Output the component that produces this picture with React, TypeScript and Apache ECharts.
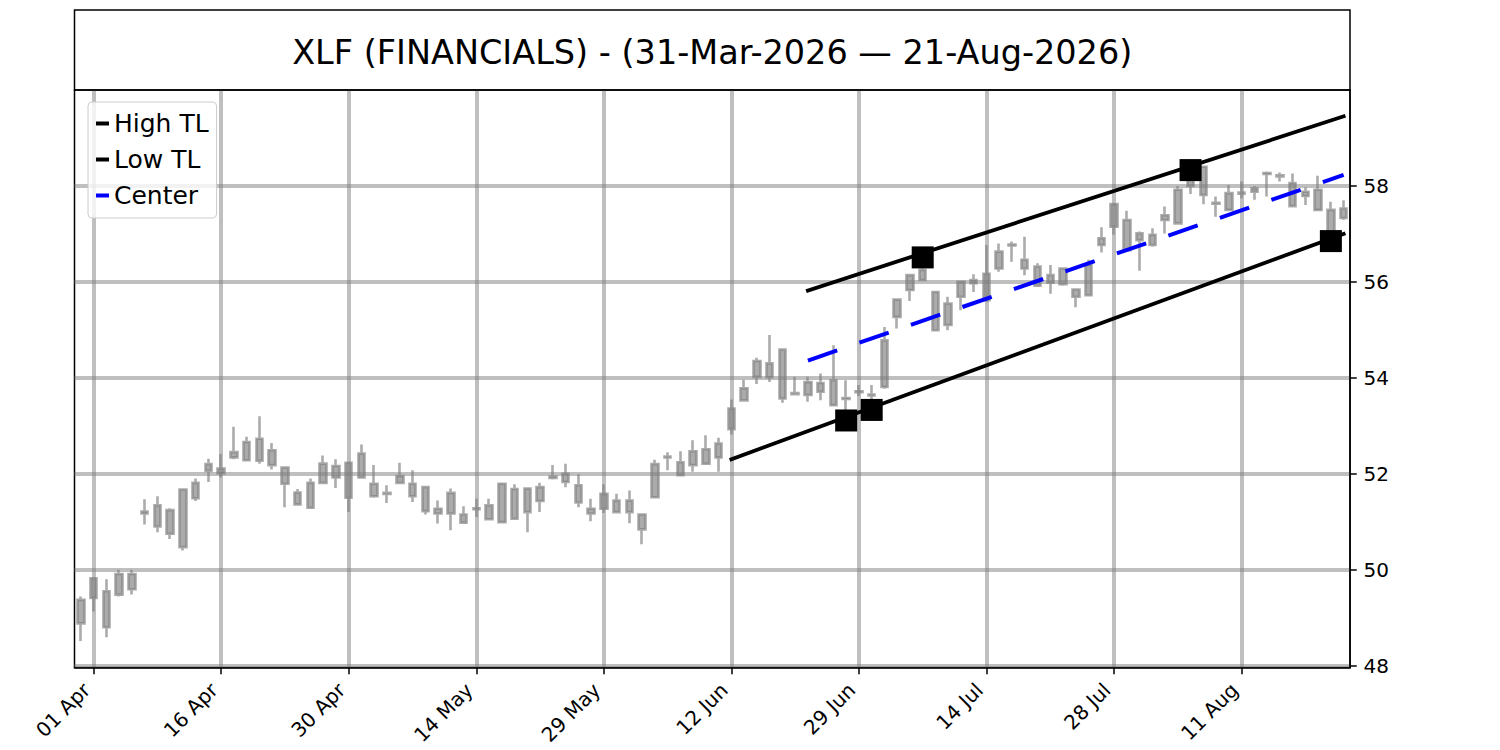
import React, { useEffect, useRef } from "react";
import * as echarts from "echarts";

const TITLE = "XLF (FINANCIALS) - (31-Mar-2026 \u2014 21-Aug-2026)";

const dates = [
  "2026-03-31", "2026-04-01", "2026-04-02", "2026-04-06", "2026-04-07", "2026-04-08", "2026-04-09", "2026-04-10",
  "2026-04-13", "2026-04-14", "2026-04-15", "2026-04-16", "2026-04-17", "2026-04-20", "2026-04-21", "2026-04-22",
  "2026-04-23", "2026-04-24", "2026-04-27", "2026-04-28", "2026-04-29", "2026-04-30", "2026-05-01", "2026-05-04",
  "2026-05-05", "2026-05-06", "2026-05-07", "2026-05-08", "2026-05-11", "2026-05-12", "2026-05-13", "2026-05-14",
  "2026-05-15", "2026-05-18", "2026-05-19", "2026-05-20", "2026-05-21", "2026-05-22", "2026-05-26", "2026-05-27",
  "2026-05-28", "2026-05-29", "2026-06-01", "2026-06-02", "2026-06-03", "2026-06-04", "2026-06-05", "2026-06-08",
  "2026-06-09", "2026-06-10", "2026-06-11", "2026-06-12", "2026-06-15", "2026-06-16", "2026-06-17", "2026-06-18",
  "2026-06-22", "2026-06-23", "2026-06-24", "2026-06-25", "2026-06-26", "2026-06-29", "2026-06-30", "2026-07-01",
  "2026-07-02", "2026-07-06", "2026-07-07", "2026-07-08", "2026-07-09", "2026-07-10", "2026-07-13", "2026-07-14",
  "2026-07-15", "2026-07-16", "2026-07-17", "2026-07-20", "2026-07-21", "2026-07-22", "2026-07-23", "2026-07-24",
  "2026-07-27", "2026-07-28", "2026-07-29", "2026-07-30", "2026-07-31", "2026-08-03", "2026-08-04", "2026-08-05",
  "2026-08-06", "2026-08-07", "2026-08-10", "2026-08-11", "2026-08-12", "2026-08-13", "2026-08-14", "2026-08-17",
  "2026-08-18", "2026-08-19", "2026-08-20", "2026-08-21",
];

const open = [
  48.88, 49.41, 49.55, 49.48, 49.59, 51.17, 51.34, 51.24, 50.47, 51.49,
  52.06, 52.11, 52.34, 52.28, 52.27, 52.49, 52.13, 51.61, 51.29, 51.81,
  51.92, 52.23, 51.92, 51.79, 51.60, 51.81, 51.79, 51.72, 51.27, 51.17,
  51.15, 51.26, 51.34, 50.99, 51.68, 51.20, 51.43, 51.91, 52.00, 51.76,
  51.27, 51.27, 51.44, 51.44, 51.15, 51.51, 52.34, 52.24, 52.18, 52.21,
  52.34, 52.93, 53.53, 54.02, 54.30, 54.59, 53.68, 53.64, 53.71, 53.95,
  53.58, 53.70, 53.65, 53.81, 55.27, 55.83, 56.04, 55.79, 55.55, 55.69,
  55.97, 56.17, 56.28, 56.76, 56.46, 56.32, 56.14, 55.95, 55.84, 55.72,
  56.77, 57.15, 57.29, 57.01, 56.98, 57.29, 57.22, 58.00, 57.81, 57.65,
  57.50, 57.84, 57.88, 58.25, 58.22, 58.06, 57.79, 57.92, 57.50, 57.33,
];

const close = [
  49.37, 49.82, 48.80, 49.91, 49.91, 51.21, 50.90, 50.75, 51.67, 51.81,
  52.20, 52.01, 52.45, 52.66, 52.73, 52.18, 51.79, 51.36, 51.81, 52.21,
  52.16, 51.50, 52.42, 51.53, 51.58, 51.95, 51.53, 51.22, 51.17, 51.60,
  50.98, 51.28, 51.05, 51.79, 51.06, 51.69, 51.72, 51.94, 51.83, 51.40,
  51.17, 51.58, 51.20, 51.20, 50.84, 52.20, 52.36, 51.97, 52.47, 52.51,
  52.63, 53.36, 53.78, 54.35, 54.01, 53.57, 53.66, 53.91, 53.89, 53.43,
  53.56, 53.72, 53.63, 54.78, 55.63, 56.14, 56.25, 54.99, 55.10, 56.00,
  56.04, 55.62, 56.63, 56.78, 56.28, 55.92, 55.98, 56.28, 55.69, 56.35,
  56.91, 57.62, 56.66, 56.87, 56.77, 57.39, 57.92, 58.15, 58.40, 57.63,
  57.85, 57.86, 57.95, 58.27, 58.20, 57.58, 57.88, 57.50, 57.01, 57.53,
];

const low = [
  48.51, 49.13, 48.59, 49.44, 49.48, 50.94, 50.78, 50.64, 50.40, 51.43,
  51.83, 51.92, 52.30, 52.26, 52.21, 52.09, 51.30, 51.34, 51.29, 51.81,
  51.70, 51.20, 51.92, 51.50, 51.39, 51.79, 51.41, 51.15, 50.96, 50.82,
  50.96, 51.10, 51.03, 50.99, 51.06, 50.78, 51.20, 51.88, 51.72, 51.30,
  51.01, 51.18, 51.18, 50.97, 50.53, 51.51, 52.07, 51.96, 52.04, 52.21,
  52.04, 52.82, 53.50, 53.87, 53.91, 53.48, 53.63, 53.50, 53.53, 53.43,
  53.11, 53.62, 53.34, 53.77, 55.03, 55.60, 56.04, 54.99, 54.99, 55.41,
  55.79, 55.58, 56.21, 56.42, 56.14, 55.92, 55.75, 55.92, 55.47, 55.72,
  56.61, 56.98, 56.66, 56.23, 56.73, 57.01, 57.22, 57.83, 57.62, 57.36,
  57.47, 57.74, 57.71, 57.78, 58.09, 57.58, 57.60, 57.47, 56.85, 57.29,
];

const high = [
  49.44, 49.82, 49.80, 50.00, 50.00, 51.47, 51.53, 51.28, 51.67, 51.90,
  52.31, 52.41, 52.98, 52.77, 53.20, 52.64, 52.15, 51.68, 51.90, 52.38,
  52.30, 52.23, 52.61, 52.18, 51.76, 52.23, 52.07, 51.72, 51.44, 51.69,
  51.32, 51.48, 51.48, 51.80, 51.78, 51.69, 51.81, 52.18, 52.21, 51.99,
  51.48, 51.78, 51.58, 51.65, 51.15, 52.29, 52.45, 52.47, 52.70, 52.80,
  52.75, 53.55, 53.96, 54.42, 54.89, 54.61, 54.02, 54.02, 54.09, 54.68,
  53.95, 53.85, 53.85, 55.06, 55.63, 56.17, 56.52, 55.79, 55.69, 56.00,
  56.16, 56.77, 56.80, 56.84, 56.94, 56.39, 56.35, 56.30, 55.84, 56.46,
  57.14, 57.62, 57.48, 57.05, 57.12, 57.57, 58.00, 58.33, 58.40, 57.78,
  58.02, 58.09, 58.00, 58.30, 58.28, 58.26, 57.97, 58.21, 57.67, 57.70,
];

const yTicks = [48, 50, 52, 54, 56, 58];
const monthNames = ["Jan", "Feb", "Mar", "Apr", "May", "Jun", "Jul", "Aug", "Sep", "Oct", "Nov", "Dec"];

// trendlines: [category index, price]
const highTL = [[57, 55.82], [99, 59.45]];
const lowTL = [[51, 52.3], [99, 57.0]];
const centerTL = [[57, 54.36], [99, 58.23]];
const pivots = [[60, 53.11], [62, 53.33], [66, 56.51], [87, 58.33], [98, 56.85]];

const FONT = "DejaVu Sans";
const GRID_COLOR = "rgba(128,128,128,0.5)";
const TICK_FONT = 20;

function fmtDate(s: string): string {
  const parts = s.split("-");
  return parts[2] + " " + monthNames[parseInt(parts[1], 10) - 1];
}

const showIdx = (i: number) => i % 10 === 1;

export default function App() {
  const ref = useRef<HTMLDivElement>(null);

  useEffect(() => {
    document.body.style.margin = "0";
    const chart = echarts.init(ref.current as HTMLDivElement, undefined, { renderer: "svg" });
    const candles = dates.map((_, i) => [open[i], close[i], low[i], high[i]]);

    const option: any = {
      animation: false,
      backgroundColor: "#ffffff",
      title: {
        text: TITLE,
        left: 712.25,
        top: 35,
        textAlign: "center",
        padding: 0,
        textStyle: { fontFamily: FONT, fontSize: 33.5, fontWeight: "normal", color: "#000" },
      },
      graphic: [
        {
          type: "rect",
          shape: { x: 74.5, y: 10, width: 1275.5, height: 80 },
          style: { fill: "none", stroke: "#000", lineWidth: 1.5 },
          z: 100,
        },
      ],
      legend: {
        orient: "vertical",
        left: 88,
        top: 102,
        padding: [9, 8, 10, 8],
        itemGap: 11,
        itemWidth: 13,
        itemHeight: 4,
        backgroundColor: "rgba(255,255,255,0.8)",
        borderColor: "#cccccc",
        borderWidth: 1,
        borderRadius: 4,
        textStyle: { fontFamily: FONT, fontSize: 25, color: "#000" },
        itemStyle: { borderWidth: 0 },
        data: [
          { name: "High TL", icon: "rect" },
          { name: "Low TL", icon: "rect" },
          { name: "Center", icon: "rect" },
        ],
        z: 50,
      },
      grid: {
        left: 74.5,
        right: 150,
        top: 90,
        bottom: 82.5,
        outerBoundsMode: "none",
        containLabel: false,
        show: true,
        borderColor: "#000",
        borderWidth: 1.5,
        backgroundColor: "transparent",
      },
      xAxis: {
        type: "category",
        data: dates,
        boundaryGap: true,
        axisLine: { show: true, lineStyle: { color: "#000", width: 1.5 } },
        axisTick: {
          show: true,
          alignWithLabel: true,
          interval: (i: number) => showIdx(i),
          length: 6.75,
          lineStyle: { color: "#000", width: 1.5 },
        },
        axisLabel: {
          interval: (i: number) => showIdx(i),
          rotate: 45,
          margin: 12,
          padding: [0, 10, 0, 0],
          fontFamily: FONT,
          fontSize: TICK_FONT,
          color: "#000",
          formatter: (v: string) => fmtDate(v),
        },
        splitLine: {
          show: true,
          alignWithLabel: true,
          interval: (i: number) => showIdx(i),
          lineStyle: { color: GRID_COLOR, width: 4 },
        },
      },
      yAxis: {
        type: "value",
        position: "right",
        min: 47.96,
        max: 60,
        scale: true,
        axisLine: { show: true, lineStyle: { color: "#000", width: 1.5 } },
        axisTick: { show: true, length: 6.75, customValues: yTicks, lineStyle: { color: "#000", width: 1.5 } },
        axisLabel: {
          customValues: yTicks,
          margin: 13.5,
          fontFamily: FONT,
          fontSize: TICK_FONT,
          color: "#000",
        },
        splitLine: { show: true, lineStyle: { color: GRID_COLOR, width: 4 } },
      },
      series: [
        {
          name: "XLF",
          type: "candlestick",
          data: candles,
          barWidth: 7,
          itemStyle: {
            color: "#808080",
            color0: "#808080",
            borderColor: "#808080",
            borderColor0: "#808080",
            borderWidth: 2.6,
            opacity: 0.66,
          },
          z: 2,
        },
        {
          name: "High TL",
          type: "line",
          data: highTL,
          symbol: "none",
          color: "#000000",
          lineStyle: { color: "#000000", width: 3.8, cap: "square" },
          z: 3,
        },
        {
          name: "Low TL",
          type: "line",
          data: lowTL,
          symbol: "none",
          color: "#000000",
          lineStyle: { color: "#000000", width: 3.8, cap: "square" },
          z: 3,
        },
        {
          name: "Center",
          type: "line",
          data: centerTL,
          symbol: "none",
          color: "#0000ff",
          lineStyle: { color: "#0000ff", width: 4, type: [31, 23.5] },
          z: 3,
        },
        {
          name: "Pivots",
          type: "scatter",
          data: pivots,
          symbol: "rect",
          symbolSize: 22,
          itemStyle: { color: "#000000", opacity: 1 },
          z: 4,
        },
      ],
    };

    chart.setOption(option);
    return () => chart.dispose();
  }, []);

  return (
    <div
      ref={ref}
      style={{ position: "absolute", left: 0, top: 0, width: 1500, height: 750 }}
    />
  );
}
